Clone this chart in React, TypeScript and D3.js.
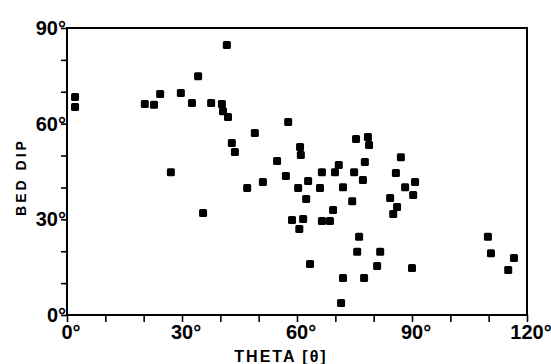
import * as React from 'react';
import * as d3 from 'd3';

// theta (deg) and bed dip (deg)
const thetaVals = [
  2.1, 2.1, 20.3, 22.7, 24.3, 29.7, 32.6, 34.2, 27.1, 41.7, 37.6, 40.4, 40.7, 42.0,
  49.0, 57.7, 43.0, 43.8, 60.8, 61.0, 54.8, 75.4, 78.5, 78.8, 77.7, 70.9, 69.9, 66.5,
  74.9, 57.1, 62.9, 51.1, 77.2, 87.1, 85.8, 90.8, 35.5, 47.0, 60.3, 62.4, 66.0, 72.0,
  74.4, 69.4, 58.7, 61.6, 60.6, 66.5, 68.6, 76.2, 75.7, 81.7, 80.9, 63.4, 72.0, 77.5,
  71.5, 90.0, 109.8, 110.6, 115.1, 116.6, 84.3, 86.1, 85.1, 88.2, 90.3,
];
const dipVals = [
  68.4, 65.2, 66.2, 65.9, 69.3, 69.6, 66.5, 74.9, 44.8, 84.7, 66.5, 66.2, 63.9, 62.1,
  57.1, 60.5, 53.9, 51.1, 52.7, 50.2, 48.3, 55.2, 55.8, 53.3, 48.0, 47.0, 44.8, 44.8,
  44.8, 43.6, 42.0, 41.7, 42.3, 49.5, 44.5, 41.7, 32.0, 39.8, 39.8, 36.4, 39.8, 40.1,
  35.7, 32.9, 29.8, 30.1, 27.0, 29.5, 29.5, 24.5, 19.8, 19.8, 15.4, 16.0, 11.6, 11.6,
  3.8, 14.7, 24.5, 19.4, 14.1, 17.9, 36.7, 33.9, 31.7, 40.1, 37.6,
];
const xLabels = [0, 30, 60, 90, 120];
const yLabels = [0, 30, 60, 90];

const FONT = '"Liberation Sans", Arial, sans-serif';

const App = () => {
  const ref = React.useRef<SVGSVGElement | null>(null);

  React.useEffect(() => {
    const svg = d3.select(ref.current);
    svg.selectAll('*').remove();

    const x = d3.scaleLinear().domain([0, 120]).range([67, 527]);
    const y = d3.scaleLinear().domain([0, 90]).range([315, 28]);

    // minor + major ticks, outward
    const xAxis = svg
      .append('g')
      .attr('transform', `translate(0,${y(0)})`)
      .call(d3.axisBottom(x).tickValues(d3.range(0, 121, 10)).tickSize(7).tickFormat(() => ''));
    const yAxis = svg
      .append('g')
      .attr('transform', `translate(${x(0)},0)`)
      .call(d3.axisLeft(y).tickValues(d3.range(0, 91, 10)).tickSize(6).tickFormat(() => ''));
    svg.selectAll('.domain').remove();
    xAxis.selectAll('.tick line').attr('stroke', '#000').attr('stroke-width', 1.6);
    yAxis.selectAll('.tick line').attr('stroke', '#000').attr('stroke-width', 1.6);

    // frame
    svg
      .append('rect')
      .attr('x', x(0))
      .attr('y', y(90))
      .attr('width', x(120) - x(0))
      .attr('height', y(0) - y(90))
      .attr('fill', 'none')
      .attr('stroke', '#000')
      .attr('stroke-width', 2);

    // x tick labels: digits centred on tick, degree sign trailing
    xLabels.forEach((v) => {
      const t = svg
        .append('text')
        .attr('x', x(v))
        .attr('y', y(0) + 24)
        .attr('text-anchor', 'middle')
        .style('font-family', FONT)
        .style('font-weight', 'bold')
        .style('font-size', '20px')
        .text(String(v));
      const w = (t.node() as SVGTextElement).getComputedTextLength();
      svg
        .append('text')
        .attr('x', x(v) + w / 2)
        .attr('y', y(0) + 24)
        .style('font-family', FONT)
        .style('font-weight', 'bold')
        .style('font-size', '20px')
        .text('°');
    });

    yLabels.forEach((v) => {
      svg
        .append('text')
        .attr('x', x(0) - 1)
        .attr('y', y(v) + 7)
        .attr('text-anchor', 'end')
        .style('font-family', FONT)
        .style('font-weight', 'bold')
        .style('font-size', '20px')
        .text(`${v}°`);
    });

    svg
      .append('text')
      .attr('transform', `translate(26,177) rotate(-90)`)
      .attr('text-anchor', 'middle')
      .style('font-family', FONT)
      .style('font-weight', 'bold')
      .style('font-size', '14px')
      .style('letter-spacing', '3px')
      .text('BED DIP');

    svg
      .append('text')
      .attr('x', 281)
      .attr('y', 362)
      .attr('text-anchor', 'middle')
      .style('font-family', FONT)
      .style('font-weight', 'bold')
      .style('font-size', '16px')
      .style('letter-spacing', '2px')
      .text('THETA [θ]');

    const s = 8;
    svg
      .append('g')
      .selectAll('rect')
      .data(thetaVals.map((t, i) => [t, dipVals[i]]))
      .enter()
      .append('rect')
      .attr('x', (d) => x(d[0]) - s / 2)
      .attr('y', (d) => y(d[1]) - s / 2)
      .attr('width', s)
      .attr('height', s)
      .attr('rx', 1.5)
      .attr('fill', '#000');
  }, []);

  return (
    <svg
      ref={ref}
      width={551}
      height={364}
      style={{ position: 'absolute', left: 0, top: 0, background: '#fff' }}
    />
  );
};

export default App;
